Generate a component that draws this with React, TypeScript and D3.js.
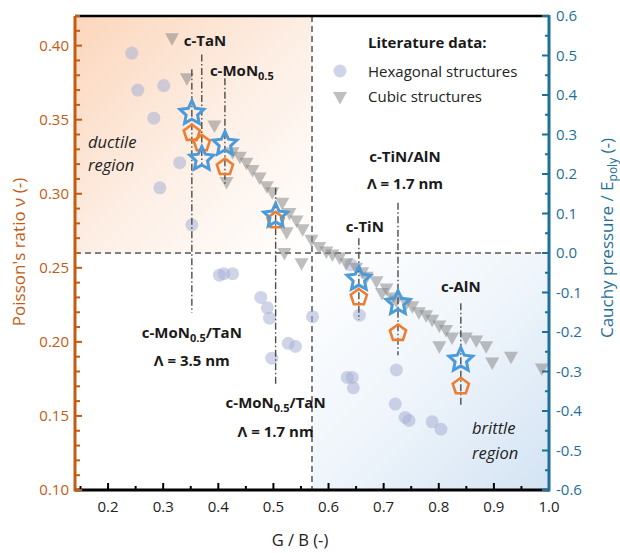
import React from 'react';
import * as d3 from 'd3';

// literature data: hexagonal structures (G/B, Poisson's ratio)
const hexGB = [0.243, 0.254, 0.301, 0.283, 0.330, 0.294, 0.352, 0.402, 0.410, 0.426, 0.477, 0.489, 0.493, 0.527, 0.540, 0.497, 0.571, 0.641, 0.656, 0.634, 0.643, 0.645, 0.723, 0.721, 0.739, 0.746, 0.788, 0.804];
const hexNu = [0.395, 0.370, 0.373, 0.351, 0.321, 0.304, 0.279, 0.245, 0.246, 0.246, 0.230, 0.223, 0.216, 0.199, 0.197, 0.189, 0.217, 0.252, 0.218, 0.176, 0.176, 0.169, 0.181, 0.158, 0.149, 0.147, 0.146, 0.141];

// literature data: cubic structures
const cubGB = [0.316, 0.343, 0.393, 0.415, 0.426, 0.439, 0.451, 0.462, 0.475, 0.488, 0.498, 0.516, 0.529, 0.542, 0.553, 0.569, 0.524, 0.520, 0.551, 0.583, 0.596, 0.607, 0.620, 0.632, 0.650, 0.661, 0.669, 0.687, 0.705, 0.697, 0.716, 0.723, 0.741, 0.752, 0.764, 0.777, 0.788, 0.801, 0.813, 0.824, 0.801, 0.849, 0.868, 0.886, 0.897, 0.931, 0.987];
const cubNu = [0.405, 0.378, 0.346, 0.308, 0.328, 0.325, 0.321, 0.316, 0.311, 0.305, 0.301, 0.294, 0.287, 0.282, 0.276, 0.269, 0.274, 0.260, 0.253, 0.264, 0.261, 0.259, 0.257, 0.253, 0.250, 0.247, 0.244, 0.241, 0.236, 0.233, 0.230, 0.228, 0.226, 0.224, 0.220, 0.218, 0.215, 0.211, 0.208, 0.203, 0.197, 0.203, 0.201, 0.197, 0.186, 0.190, 0.182];

// this work
const matGB = [0.352, 0.370, 0.412, 0.504, 0.655, 0.726, 0.840];
const matNu = [0.341, 0.334, 0.318, 0.282, 0.230, 0.206, 0.170];
const matCauchy = [0.354, 0.238, 0.276, 0.094, -0.066, -0.127, -0.271];
const leadTop = [0.384, 0.394, 0.378, 0.304, 0.270, 0.294, 0.226];
const leadBottom = [0.2196, 0.318, 0.305, 0.171, 0.215, 0.191, 0.157];

const gbSplit = 0.57;
const nuSplit = 0.26;

const ORANGE = '#c55a11';
const TEAL = '#1f6f98';
const FONT = '"Open Sans", "DejaVu Sans", sans-serif';

function starPath(r: number, ri: number) {
  const pts: [number, number][] = [];
  for (let i = 0; i < 10; i++) {
    const a = -Math.PI / 2 + (i * Math.PI) / 5;
    const rr = i % 2 === 0 ? r : ri;
    pts.push([rr * Math.cos(a), rr * Math.sin(a)]);
  }
  return d3.line()(pts) + 'Z';
}

function pentPath(r: number) {
  const pts: [number, number][] = [];
  for (let i = 0; i < 5; i++) {
    const a = -Math.PI / 2 + (i * 2 * Math.PI) / 5;
    pts.push([r * Math.cos(a), r * Math.sin(a)]);
  }
  return d3.line()(pts) + 'Z';
}

const triPath = 'M-7,-5L7,-5L0,7.5Z';

export default function App() {
  const x = d3.scaleLinear().domain([0.14, 1.0]).range([75, 549]);
  const yL = d3.scaleLinear().domain([0.10, 0.42]).range([490, 16]);
  const yR = d3.scaleLinear().domain([-0.6, 0.6]).range([490, 16]);

  const xMajor = d3.range(2, 11).map(i => i / 10);
  const xMinor = d3.range(15, 100, 10).map(i => i / 100);
  const lMajor = d3.range(10, 41, 5).map(i => i / 100);
  const lMinor = d3.range(10, 43).map(i => i / 100).filter(v => Math.round(v * 100) % 5 !== 0);
  const rMajor = d3.range(-6, 7).map(i => i / 10);
  const rMinor = d3.range(-55, 60, 10).map(i => i / 100);

  const star = starPath(12.5, 6);
  const pent = pentPath(8.5);
  const dashDot = '7,2.5,1.5,2.5';

  const x0 = x.range()[0], x1 = x.range()[1];
  const yT = yL.range()[1], yB = yL.range()[0];
  const xs = x(gbSplit), ys = yL(nuSplit);

  const boldLbl = { fontFamily: FONT, fontWeight: 700, fontSize: 15, fill: '#1a1a1a' } as const;
  const sub = (t: string) => <tspan fontSize={11} dy={4}>{t}</tspan>;

  return (
    <svg width={620} height={553} style={{ position: 'absolute', left: 0, top: 0, background: '#fff' }}>
      <defs>
        <linearGradient id="duct" x1="0" y1="0" x2="1" y2="1">
          <stop offset="0" stopColor="#fcd6bb" />
          <stop offset="0.55" stopColor="#fdf0e7" />
          <stop offset="1" stopColor="#ffffff" />
        </linearGradient>
        <linearGradient id="brit" x1="0" y1="0" x2="1" y2="1">
          <stop offset="0" stopColor="#ffffff" />
          <stop offset="0.5" stopColor="#eff5fb" />
          <stop offset="1" stopColor="#d3e3f3" />
        </linearGradient>
      </defs>

      <rect x={x0} y={yT} width={xs - x0} height={ys - yT} fill="url(#duct)" />
      <rect x={xs} y={ys} width={x1 - xs} height={yB - ys} fill="url(#brit)" />

      {/* quadrant dividers */}
      <line x1={xs} x2={xs} y1={yT} y2={yB} stroke="#7f7f7f" strokeWidth={2} strokeDasharray="6,4" />
      <line x1={x0} x2={x1} y1={ys} y2={ys} stroke="#7f7f7f" strokeWidth={2} strokeDasharray="6,4" />

      {/* literature data */}
      {hexGB.map((g, i) => (
        <circle key={'h' + i} cx={x(g)} cy={yL(hexNu[i])} r={6.5} fill="#a7b0d6" fillOpacity={0.55} />
      ))}
      {cubGB.map((g, i) => (
        <path key={'c' + i} d={triPath} transform={`translate(${x(g)},${yL(cubNu[i])})`} fill="#858585" fillOpacity={0.52} />
      ))}

      {/* leader lines */}
      {matGB.map((g, i) => (
        <line key={'l' + i} x1={x(g)} x2={x(g)} y1={yL(leadTop[i])} y2={yL(leadBottom[i])}
          stroke="#4d4d4d" strokeWidth={1.4} strokeDasharray={dashDot} />
      ))}

      {/* this work */}
      {matGB.map((g, i) => (
        <path key={'p' + i} d={pent} transform={`translate(${x(g)},${yL(matNu[i])})`}
          fill="none" stroke="#ed7d31" strokeWidth={2.6} strokeLinejoin="miter" />
      ))}
      {matGB.map((g, i) => (
        <path key={'s' + i} d={star} transform={`translate(${x(g)},${yR(matCauchy[i])})`}
          fill="none" stroke="#4c9bd8" strokeWidth={3} strokeLinejoin="miter" />
      ))}

      {/* annotations */}
      <text x={x(matGB[1]) - 18} y={46} {...boldLbl}>c-TaN</text>
      <text x={x(matGB[2]) - 15} y={76} {...boldLbl}>c-MoN{sub('0.5')}</text>
      <text x={x(matGB[0])} y={338} textAnchor="middle" {...boldLbl}>c-MoN{sub('0.5')}<tspan dy={-4}>/TaN</tspan></text>
      <text x={x(matGB[0])} y={366} textAnchor="middle" {...boldLbl}>Λ = 3.5 nm</text>
      <text x={x(matGB[3])} y={408} textAnchor="middle" {...boldLbl}>c-MoN{sub('0.5')}<tspan dy={-4}>/TaN</tspan></text>
      <text x={x(matGB[3])} y={437} textAnchor="middle" {...boldLbl}>Λ = 1.7 nm</text>
      <text x={x(matGB[4]) + 6} y={232} textAnchor="middle" {...boldLbl}>c-TiN</text>
      <text x={x(matGB[5]) + 7} y={162} textAnchor="middle" {...boldLbl}>c-TiN/AlN</text>
      <text x={x(matGB[5]) + 7} y={189} textAnchor="middle" {...boldLbl}>Λ = 1.7 nm</text>
      <text x={x(matGB[6])} y={292} textAnchor="middle" {...boldLbl}>c-AlN</text>

      <g fontFamily={FONT} fontStyle="italic" fontSize={16.5} fill="#222">
        <text x={88} y={148}>ductile</text>
        <text x={88} y={171}>region</text>
        <text x={472} y={434}>brittle</text>
        <text x={472} y={459}>region</text>
      </g>

      {/* legend */}
      <text x={368} y={48} {...boldLbl}>Literature data:</text>
      <circle cx={340} cy={71} r={6.5} fill="#a7b0d6" fillOpacity={0.55} />
      <text x={368} y={77} fontFamily={FONT} fontSize={15} fill="#222">Hexagonal structures</text>
      <path d={triPath} transform="translate(340,97)" fill="#858585" fillOpacity={0.52} />
      <text x={368} y={102} fontFamily={FONT} fontSize={15} fill="#222">Cubic structures</text>

      {/* frame */}
      <line x1={x0} x2={x1} y1={yT} y2={yT} stroke="#000" strokeWidth={2.5} />

      {/* bottom axis */}
      <g>
        {xMajor.map(v => <line key={'xM' + v} x1={x(v)} x2={x(v)} y1={yB} y2={yB - 7} stroke="#000" strokeWidth={2} />)}
        {xMinor.map(v => <line key={'xm' + v} x1={x(v)} x2={x(v)} y1={yB} y2={yB - 4} stroke="#000" strokeWidth={2} />)}
        <line x1={x0} x2={x1} y1={yB} y2={yB} stroke="#000" strokeWidth={3} />
        {xMajor.map(v => (
          <text key={'xt' + v} x={x(v)} y={yB + 22} textAnchor="middle" fontFamily={FONT} fontSize={15} fill="#222">{v.toFixed(1)}</text>
        ))}
        <text x={300} y={546} textAnchor="middle" fontFamily={FONT} fontSize={16.5} fill="#222">G / B (-)</text>
      </g>

      {/* left axis */}
      <g>
        {lMajor.map(v => <line key={'lM' + v} x1={x0} x2={x0 + 7} y1={yL(v)} y2={yL(v)} stroke={ORANGE} strokeWidth={2} />)}
        {lMinor.map(v => <line key={'lm' + v} x1={x0} x2={x0 + 5} y1={yL(v)} y2={yL(v)} stroke={ORANGE} strokeWidth={2} />)}
        <line x1={x0} x2={x0} y1={yT} y2={yB + 1.5} stroke={ORANGE} strokeWidth={3} />
        {lMajor.map(v => (
          <text key={'lt' + v} x={x0 - 6} y={yL(v) + 5} textAnchor="end" fontFamily={FONT} fontSize={15} fill={ORANGE}>{v.toFixed(2)}</text>
        ))}
        <text transform={`translate(25,${252}) rotate(-90)`} textAnchor="middle" fontFamily={FONT} fontSize={17} fill={ORANGE}>Poisson's ratio ν (-)</text>
      </g>

      {/* right axis */}
      <g>
        {rMajor.map(v => <line key={'rM' + v} x1={x1} x2={x1 - 7} y1={yR(v)} y2={yR(v)} stroke={TEAL} strokeWidth={2} />)}
        {rMinor.map(v => <line key={'rm' + v} x1={x1} x2={x1 - 4} y1={yR(v)} y2={yR(v)} stroke={TEAL} strokeWidth={2} />)}
        <line x1={x1} x2={x1} y1={yT - 1} y2={yB + 1.5} stroke={TEAL} strokeWidth={3} />
        {rMajor.map(v => (
          <text key={'rt' + v} x={x1 + 7} y={yR(v) + 5} fontFamily={FONT} fontSize={15} fill={TEAL}>{v.toFixed(1)}</text>
        ))}
        <text transform={`translate(613,${238}) rotate(-90)`} textAnchor="middle" fontFamily={FONT} fontSize={17} fill={TEAL}>
          Cauchy pressure / E<tspan fontSize={12} dy={4}>poly</tspan><tspan dy={-4}> (-)</tspan>
        </text>
      </g>
    </svg>
  );
}
